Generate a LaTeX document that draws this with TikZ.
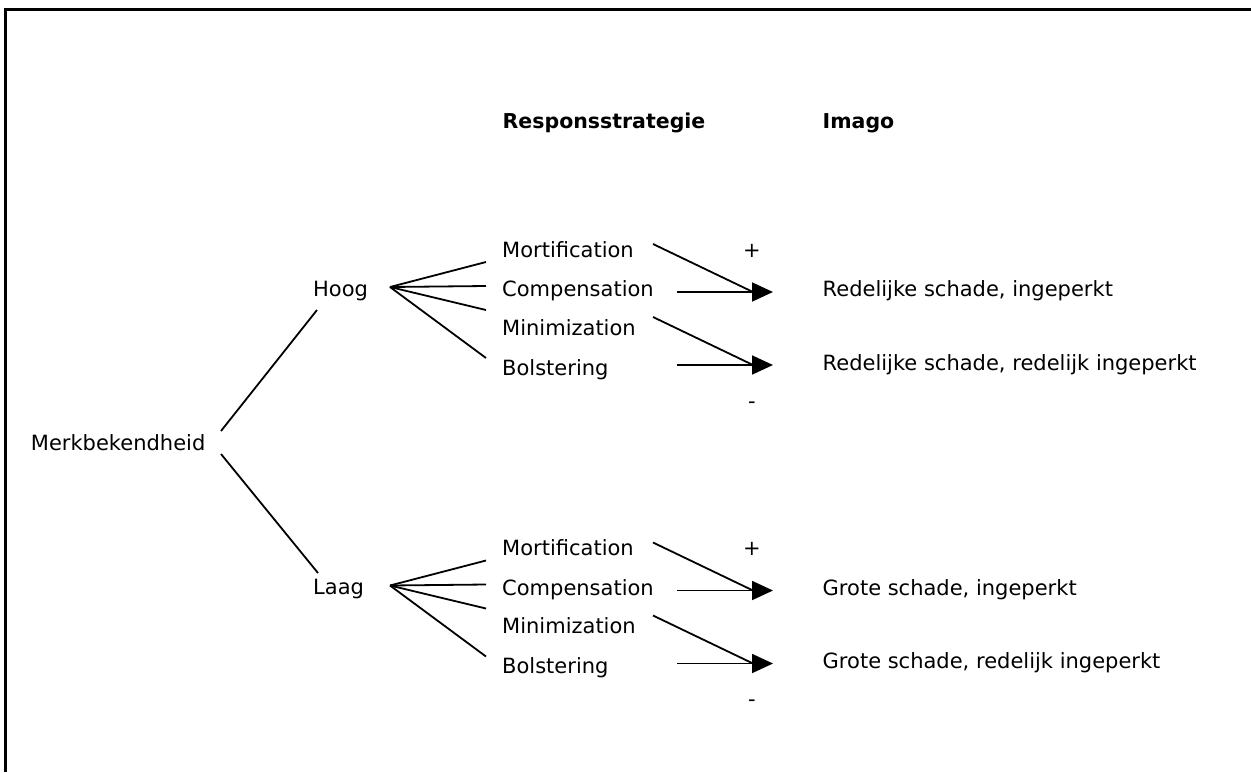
\documentclass[tikz,border=0pt]{standalone}
\usepackage{fontspec}
\setmainfont{DejaVu Sans}
\usetikzlibrary{arrows.meta}
\tikzset{
  lbl/.style={anchor=base west, inner sep=0pt, font=\fontsize{21}{25}\selectfont},
  sign/.style={anchor=center, inner sep=0pt, font=\fontsize{21}{25}\selectfont},
  head/.style={lbl, font=\fontsize{20.5}{24}\selectfont\bfseries},
  conn/.style={line width=1.8pt},
  arr/.style={conn, -{Triangle[length=21pt,width=19pt]}},
  frameline/.style={line width=2.5pt},
}
% One branch: level label, fan to the four strategies, two arrows to the results.
% #1 name prefix, #2 downward shift (pt), #3 level, #4 first result, #5 second result
\newcommand\responsegroup[5]{%
\begin{scope}[yshift=-#2pt]
  \node[lbl] (#1lvl) at (313,296) {#3};
  \node[lbl] (#1mort) at (502,257.3) {Mortification};
  \node[lbl] (#1comp) at (502,296.7) {Compensation};
  \node[lbl] (#1mini) at (502,335) {Minimization};
  \node[lbl] (#1bols) at (502,375) {Bolstering};
  \node[sign] (#1plus) at (752,250.7) {+};
  \node[sign] (#1minus) at (752,405) {-};
  \node[lbl] (#1resA) at (822.5,296.7) {#4};
  \node[lbl] (#1resB) at (822.5,370) {#5};
  % fan out of the level label
  \coordinate (#1apex) at (390,287);
  \coordinate (#1f1) at (486,262);
  \coordinate (#1f2) at (486,286);
  \coordinate (#1f3) at (486,310);
  \coordinate (#1f4) at (486,358);
  \draw[conn] (#1apex) -- (#1f1);
  \draw[conn] (#1apex) -- (#1f2);
  \draw[conn] (#1apex) -- (#1f3);
  \draw[conn] (#1apex) -- (#1f4);
  % arrows towards the results
  \coordinate (#1mortS) at (653,244);
  \coordinate (#1compS) at (677,292);
  \coordinate (#1compB) at (753,292);
  \coordinate (#1compT) at (773,292);
  \coordinate (#1miniS) at (653,317);
  \coordinate (#1bolsS) at (677,365);
  \coordinate (#1bolsB) at (753,365);
  \coordinate (#1bolsT) at (773,365);
  \draw[conn] (#1mortS) -- (#1compB);
  \draw[arr] (#1compS) -- (#1compT);
  \draw[conn] (#1miniS) -- (#1bolsB);
  \draw[arr] (#1bolsS) -- (#1bolsT);
\end{scope}}

\begin{document}
\begin{tikzpicture}[x=1pt, y=-1pt]
  \useasboundingbox (0,0) rectangle (1251,772);
  % page frame (left and top edges)
  \draw[frameline] (5.5,772) -- (5.5,9.5) -- (1251,9.5);

  \node[head] (hstrat) at (502.5,128) {Responsstrategie};
  \node[head] (himago) at (822.5,128) {Imago};

  \node[lbl] (merk) at (30.7,450.7) {Merkbekendheid};

  \responsegroup{h}{0}{Hoog}{Redelijke schade, ingeperkt}{Redelijke schade, redelijk ingeperkt}
  \responsegroup{l}{298.5}{Laag}{Grote schade, ingeperkt}{Grote schade, redelijk ingeperkt}

  \coordinate (mU) at (221,431);
  \coordinate (mD) at (221,454);
  \coordinate (hU) at (317,310);
  \coordinate (lD) at (318,573);
  \draw[conn] (mU) -- (hU);
  \draw[conn] (mD) -- (lD);
\end{tikzpicture}
\end{document}
